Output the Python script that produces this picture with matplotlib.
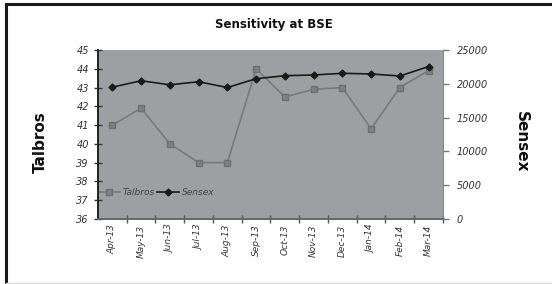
import matplotlib
matplotlib.use("Agg")
import matplotlib.pyplot as plt
from matplotlib.lines import Line2D

months = ["Apr-13", "May-13", "Jun-13", "Jul-13", "Aug-13", "Sep-13",
          "Oct-13", "Nov-13", "Dec-13", "Jan-14", "Feb-14", "Mar-14"]
talbros = [41.0, 41.9, 40.0, 39.0, 39.0, 44.0, 42.5, 42.9, 43.0, 40.8, 43.0, 43.9]
sensex = [19500, 20450, 19850, 20300, 19450, 20750, 21200, 21300, 21550, 21450, 21150, 22550]

fig = plt.figure(figsize=(5.52, 2.84), dpi=100)
fig.patch.set_facecolor("white")

# outer frame
fig.add_artist(Line2D([0.010, 1.0], [0.986, 0.986], color="#1a1a1a", lw=2.2, transform=fig.transFigure))
fig.add_artist(Line2D([0.011, 0.011], [0.0, 0.987], color="#1a1a1a", lw=2.2, transform=fig.transFigure))
fig.add_artist(Line2D([0.011, 1.0], [0.004, 0.004], color="#d8d8d8", lw=1.0, transform=fig.transFigure))

ax = fig.add_axes([0.1775, 0.229, 0.625, 0.595])
ax.set_facecolor("#9e9fa2")
x = list(range(len(months)))

ax2 = ax.twinx()
l1, = ax.plot(x, talbros, color="#7a7a7a", marker="s", markersize=5, lw=1.2,
              markerfacecolor="#808080", markeredgecolor="#707070", label="Talbros", zorder=3)
l2, = ax2.plot(x, sensex, color="#1a1a1a", marker="D", markersize=3.5, lw=1.2, label="Sensex", zorder=4)

ax.set_xlim(-0.5, 11.5)
ax.set_ylim(36, 45)
ax.set_yticks(range(36, 46))
ax2.set_ylim(0, 25000)
ax2.set_yticks(range(0, 25001, 5000))

ax.set_xticks([i - 0.5 for i in range(1, 12)] + [11.5], minor=False)
ax.set_xticklabels([])
ax.set_xticks(x, minor=True)
ax.set_xticklabels(months, minor=True, rotation=90, fontsize=6.5, style="italic", color="#333333")
ax.tick_params(axis="x", which="minor", length=0, pad=4)
ax.tick_params(axis="x", which="major", direction="inout", length=6, color="#555555", width=1)
ax.tick_params(axis="y", direction="inout", length=6, color="#333333", width=1,
               labelsize=7, labelcolor="#333333")
for t in ax.get_yticklabels():
    t.set_style("italic")
ax2.tick_params(axis="y", direction="out", length=4, color="#777777", width=1,
                labelsize=7, labelcolor="#333333", pad=6)
for t in ax2.get_yticklabels():
    t.set_style("italic")

for a in (ax, ax2):
    a.spines["top"].set_visible(False)
    a.spines["right"].set_color("#888888")
    a.spines["left"].set_color("#222222")
    a.spines["bottom"].set_color("#666666")
    a.spines["left"].set_linewidth(1.2)
    a.spines["bottom"].set_linewidth(1.2)
ax2.spines["right"].set_visible(False)

fig.text(0.497, 0.912, "Sensitivity at BSE", ha="center", va="center",
         fontsize=8.5, fontweight="bold", color="#111111")
fig.text(0.073, 0.50, "Talbros", rotation=90, ha="center", va="center",
         fontsize=11, fontweight="bold", color="#111111")
fig.text(0.944, 0.50, "Sensex", rotation=270, ha="center", va="center",
         fontsize=11, fontweight="bold", color="#111111")

leg = ax.legend(handles=[l1, l2], loc="lower left", bbox_to_anchor=(-0.01, 0.11),
                ncol=2, frameon=False, fontsize=6.5, handlelength=2.4,
                handletextpad=0.3, columnspacing=0.3, borderaxespad=0)
for t in leg.get_texts():
    t.set_style("italic")
    t.set_color("#444444")

fig.savefig("out.png", dpi=100, facecolor="white")
